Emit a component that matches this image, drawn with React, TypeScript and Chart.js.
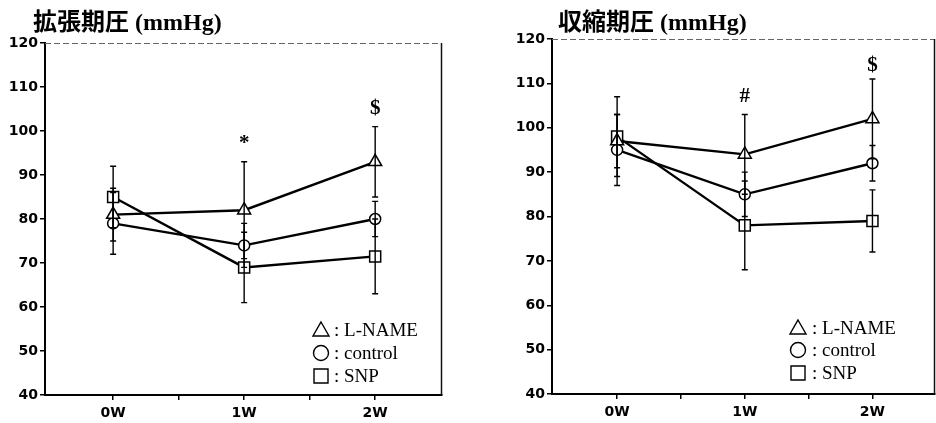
import { useEffect, useRef } from 'react';
import { Chart, registerables } from 'chart.js';
Chart.register(...registerables);

// ---- data ----
const weeks = ['0W', '1W', '2W'];
const seriesNames = ['L-NAME', 'control', 'SNP'];

// diastolic (拡張期圧)
const diaLName = [81, 82, 93];
const diaControl = [79, 74, 80];
const diaSNP = [85, 69, 71.5];
const diaLNameSD = [6, 11, 8];
const diaControlSD = [7, 5, 4];
const diaSNPSD = [7, 8, 8.5];
const diaMarks = ['', '*', '$'];
const diaMarkValues = [null, 97.2, 105.2];

// systolic (収縮期圧)
const sysLName = [97, 94, 102];
const sysControl = [95, 85, 92];
const sysSNP = [98, 78, 79];
const sysLNameSD = [6, 9, 9];
const sysControlSD = [8, 5, 4];
const sysSNPSD = [9, 10, 7];
const sysMarks = ['', '#', '$'];
const sysMarkValues = [null, 107.0, 114.0];

const yMin = 40;
const yMax = 120;
const yStep = 10;

type Panel = {
  title: string;
  values: number[][];
  sds: number[][];
  marks: string[];
  markValues: (number | null)[];
  left: number;
  width: number;
  height: number;
  area: { left: number; right: number; top: number; bottom: number };
  xMin: number;
  xMax: number;
  legendX: number;
  legendTextX: number;
  legendRows: number[];
  titleX: number;
  titleY: number;
};

const panels: Panel[] = [
  {
    title: '拡張期圧 (mmHg)',
    values: [diaLName, diaControl, diaSNP],
    sds: [diaLNameSD, diaControlSD, diaSNPSD],
    marks: diaMarks,
    markValues: diaMarkValues,
    left: 0,
    width: 460,
    height: 423,
    area: { left: 45, right: 442, top: 43, bottom: 395 },
    xMin: -0.52,
    xMax: 2.51,
    legendX: 321,
    legendTextX: 334,
    legendRows: [330, 353, 376],
    titleX: 33,
    titleY: 30,
  },
  {
    title: '収縮期圧 (mmHg)',
    values: [sysLName, sysControl, sysSNP],
    sds: [sysLNameSD, sysControlSD, sysSNPSD],
    marks: sysMarks,
    markValues: sysMarkValues,
    left: 470,
    width: 466,
    height: 423,
    area: { left: 82, right: 465, top: 39, bottom: 394 },
    xMin: -0.51,
    xMax: 2.49,
    legendX: 328,
    legendTextX: 342,
    legendRows: [328, 350, 373],
    titleX: 88,
    titleY: 30,
  },
];

const pointStyles = ['triangle', 'circle', 'rect'];
const pointRadii = [7.5, 5.5, 7.8];

function drawSymbol(ctx: CanvasRenderingContext2D, style: string, x: number, y: number) {
  ctx.save();
  ctx.strokeStyle = '#000';
  ctx.fillStyle = '#fff';
  ctx.lineWidth = 1.4;
  ctx.beginPath();
  if (style === 'triangle') {
    ctx.moveTo(x, y - 8);
    ctx.lineTo(x + 8, y + 6);
    ctx.lineTo(x - 8, y + 6);
    ctx.closePath();
  } else if (style === 'circle') {
    ctx.arc(x, y, 7.5, 0, Math.PI * 2);
  } else {
    ctx.rect(x - 7, y - 7, 14, 14);
  }
  ctx.fill();
  ctx.stroke();
  ctx.restore();
}

function makePlugin(p: Panel) {
  return {
    id: 'extras',
    afterDatasetsDraw(chart: any) {
      const ctx: CanvasRenderingContext2D = chart.ctx;
      const ys = chart.scales.y;
      const xs = chart.scales.x;
      const ca = chart.chartArea;
      // error bars
      ctx.save();
      ctx.strokeStyle = '#000';
      ctx.lineWidth = 1.4;
      chart.data.datasets.forEach((ds: any, di: number) => {
        const meta = chart.getDatasetMeta(di);
        meta.data.forEach((pt: any, i: number) => {
          const v = ds.data[i].y;
          const sd = p.sds[di][i];
          const yt = ys.getPixelForValue(v + sd);
          const yb = ys.getPixelForValue(v - sd);
          ctx.beginPath();
          ctx.moveTo(pt.x, yt);
          ctx.lineTo(pt.x, yb);
          ctx.moveTo(pt.x - 3, yt);
          ctx.lineTo(pt.x + 3, yt);
          ctx.moveTo(pt.x - 3, yb);
          ctx.lineTo(pt.x + 3, yb);
          ctx.stroke();
        });
      });
      ctx.restore();
      // frame top & right
      ctx.save();
      ctx.strokeStyle = '#666';
      ctx.lineWidth = 1;
      ctx.setLineDash([6, 3]);
      ctx.beginPath();
      ctx.moveTo(ca.left, ca.top + 0.5);
      ctx.lineTo(ca.right, ca.top + 0.5);
      ctx.stroke();
      ctx.setLineDash([]);
      ctx.strokeStyle = '#111';
      ctx.lineWidth = 1.5;
      ctx.beginPath();
      ctx.moveTo(ca.right - 0.5, ca.top);
      ctx.lineTo(ca.right - 0.5, ca.bottom);
      ctx.stroke();
      ctx.restore();
      // significance marks
      ctx.save();
      ctx.fillStyle = '#000';
      ctx.font = "bold 21px 'Liberation Serif', serif";
      ctx.textAlign = 'center';
      ctx.textBaseline = 'middle';
      p.marks.forEach((m, i) => {
        const mv = p.markValues[i];
        if (!m || mv == null) return;
        ctx.fillText(m, xs.getPixelForValue(i), ys.getPixelForValue(mv));
      });
      ctx.restore();
      // legend
      ctx.save();
      ctx.fillStyle = '#000';
      ctx.font = "19px 'Liberation Serif', serif";
      ctx.textAlign = 'left';
      ctx.textBaseline = 'middle';
      chart.data.datasets.forEach((ds: any, di: number) => {
        const y = p.legendRows[di];
        drawSymbol(ctx, pointStyles[di], p.legendX, y);
        ctx.fillText(': ' + ds.label, p.legendTextX, y + 1);
      });
      ctx.restore();
      // title
      ctx.save();
      ctx.fillStyle = '#000';
      ctx.font = "bold 24px 'Liberation Serif', 'Noto Sans CJK JP', serif";
      ctx.textAlign = 'left';
      ctx.textBaseline = 'alphabetic';
      ctx.fillText(p.title, p.titleX, p.titleY);
      ctx.restore();
    },
  };
}

function PanelChart({ p }: { p: Panel }) {
  const ref = useRef<HTMLCanvasElement | null>(null);
  useEffect(() => {
    if (!ref.current) return;
    const tickFont = { family: "'DejaVu Sans', sans-serif", size: 14, weight: 'bold' as const };
    const chart = new Chart(ref.current, {
      type: 'line',
      data: {
        datasets: p.values.map((vals, di) => ({
          label: seriesNames[di],
          data: vals.map((v, i) => ({ x: i, y: v })),
          borderColor: '#000',
          borderWidth: 2.4,
          pointStyle: pointStyles[di] as any,
          pointRadius: pointRadii[di],
          pointBackgroundColor: '#fff',
          pointBorderColor: '#000',
          pointBorderWidth: 1.5,
          tension: 0,
          fill: false,
        })),
      },
      plugins: [makePlugin(p)],
      options: {
        animation: false,
        responsive: false,
        maintainAspectRatio: false,
        layout: {
          autoPadding: false,
          padding: { left: 0, right: p.width - p.area.right, top: p.area.top, bottom: 0 },
        },
        plugins: {
          legend: { display: false },
          tooltip: { enabled: false },
          title: { display: false },
        },
        scales: {
          x: {
            type: 'linear',
            min: p.xMin,
            max: p.xMax,
            afterBuildTicks: (axis: any) => {
              axis.ticks = [0, 0.5, 1, 1.5, 2].map((v) => ({ value: v }));
            },
            afterFit: (axis: any) => {
              axis.height = p.height - p.area.bottom;
              axis.paddingLeft = 0;
              axis.paddingRight = 0;
            },
            ticks: {
              autoSkip: false,
              maxRotation: 0,
              padding: 5,
              color: '#000',
              font: tickFont,
              callback: (v: any) => (Number.isInteger(v) ? weeks[v] : ''),
            },
            grid: { drawOnChartArea: false, drawTicks: true, tickLength: 5, color: '#000', lineWidth: 1.5 },
            border: { display: true, color: '#000', width: 2 },
          },
          y: {
            min: yMin,
            max: yMax,
            afterFit: (axis: any) => {
              axis.width = p.area.left;
              axis.paddingTop = 0;
              axis.paddingBottom = 0;
            },
            ticks: { stepSize: yStep, padding: 2, color: '#000', font: tickFont },
            grid: { drawOnChartArea: false, drawTicks: true, tickLength: 5, color: '#000', lineWidth: 1.5 },
            border: { display: true, color: '#000', width: 2 },
          },
        },
      },
    });
    return () => chart.destroy();
  }, [p]);
  return (
    <canvas
      ref={ref}
      width={p.width}
      height={p.height}
      style={{ position: 'absolute', left: p.left, top: 0, width: p.width, height: p.height }}
    />
  );
}

export default function App() {
  return (
    <div style={{ position: 'absolute', left: 0, top: 0, width: 936, height: 423, background: '#fff', overflow: 'hidden' }}>
      {panels.map((p, i) => (
        <PanelChart key={i} p={p} />
      ))}
    </div>
  );
}
